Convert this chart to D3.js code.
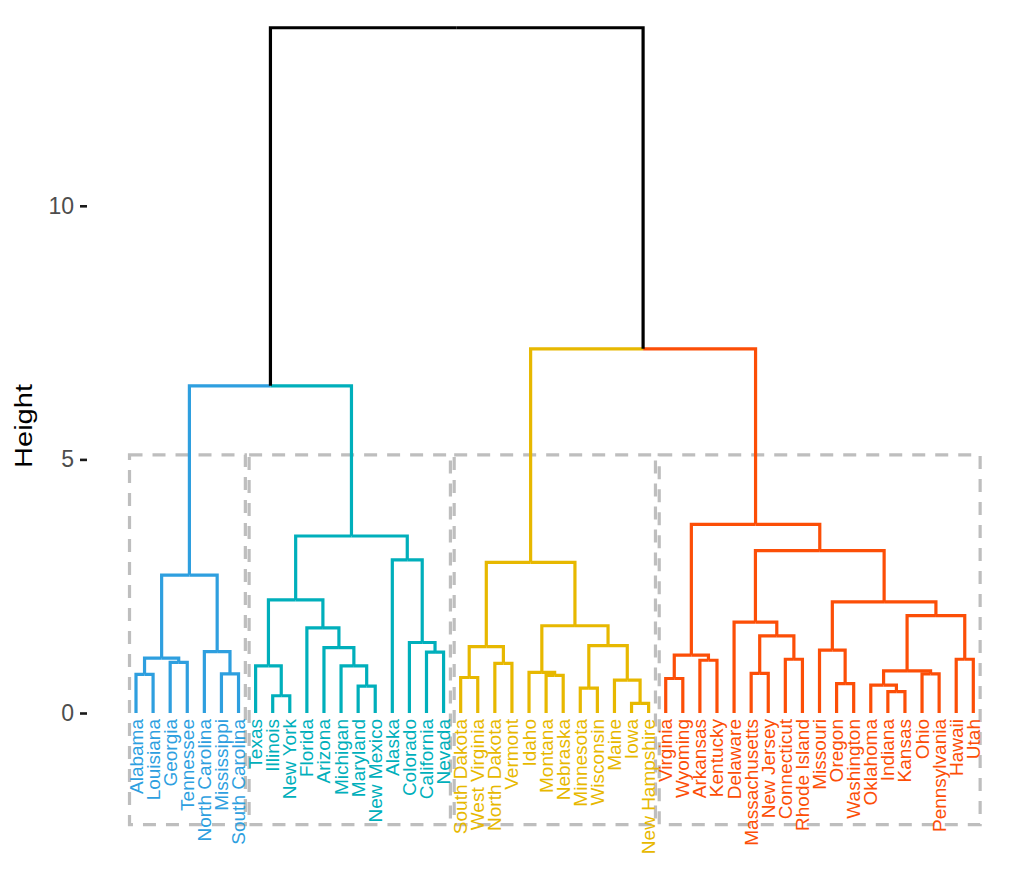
<!DOCTYPE html>
<html>
<head>
<meta charset="utf-8">
<script src="https://cdn.jsdelivr.net/npm/d3@7"></script>
<style>
  html, body { margin: 0; padding: 0; background: #ffffff; }
  svg { display: block; }
</style>
</head>
<body>
<svg id="chart" width="1036" height="887"></svg>
<script>
// ---------------- DATA ----------------
const leafNames = [
  "Alabama","Louisiana","Georgia","Tennessee","North Carolina","Mississippi","South Carolina",
  "Texas","Illinois","New York","Florida","Arizona","Michigan","Maryland","New Mexico",
  "Alaska","Colorado","California","Nevada",
  "South Dakota","West Virginia","North Dakota","Vermont","Idaho","Montana","Nebraska",
  "Minnesota","Wisconsin","Maine","Iowa","New Hampshire",
  "Virginia","Wyoming","Arkansas","Kentucky","Delaware","Massachusetts","New Jersey",
  "Connecticut","Rhode Island","Missouri","Oregon","Washington","Oklahoma","Indiana",
  "Kansas","Ohio","Pennsylvania","Hawaii","Utah"
];
// hclust-style merge table: negative = leaf (1-based, display order), positive = earlier merge step
const mergeA = [-1,-3, 1,-6,-5, 3,-9,-8,-14,-13,-12,-11, 8,-18,-17,-16,13, 6,
                -20,-22,19,-25,-24,-27,-30,-29,24,23,21,
                -32,-34,30,-37,-39,33,-36,-42,-41,-45,-44,-47,40,-49,42,38,36,32,29,18];
const mergeB = [-2,-4, 2,-7, 4, 5,-10, 7,-15, 9,10,11,12,-19,14,15,16,17,
                -21,-23,20,-26,22,-28,-31,25,26,27,28,
                -33,-35,31,-38,-40,34,35,-43,37,-46,39,-48,41,-50,43,44,45,46,47,48];
const mergeHeight = [0.76,1.00,1.08,0.77,1.21,2.72,0.34,0.93,0.53,0.93,1.29,1.68,2.23,1.20,1.39,3.02,3.49,6.45,
                     0.70,0.98,1.31,0.74,0.80,0.49,0.19,0.65,1.33,1.72,2.97,
                     0.68,1.04,1.14,0.78,1.06,1.52,1.79,0.58,1.24,0.42,0.55,0.77,0.83,1.06,1.92,2.19,3.20,3.72,7.18,13.51];
const clusterSizes = [7, 12, 12, 19];
const clusterColors = ["#2E9FDF", "#00AFBB", "#E7B800", "#FC4E07"];
const yTicks = [0, 5, 10];
const axisTitle = "Height";
const rectTop = 5.09, rectBottom = -2.2;

// ---------------- LAYOUT ----------------
const svg = d3.select("#chart");
const x = d3.scalePoint().domain(leafNames).range([136, 973.3]).padding(0);
const y = d3.scaleLinear().domain([0, 10]).range([713, 205.8]);

// cluster of each leaf
const leafCluster = [];
clusterSizes.forEach((n, c) => { for (let i = 0; i < n; i++) leafCluster.push(c); });

// build nodes
const nodes = [];
function childInfo(ref) {
  if (ref < 0) {
    const i = -ref - 1;
    return { x: x(leafNames[i]), h: 0, cluster: leafCluster[i] };
  }
  return nodes[ref - 1];
}
for (let s = 0; s < mergeHeight.length; s++) {
  const a = childInfo(mergeA[s]), b = childInfo(mergeB[s]);
  nodes.push({
    x: (a.x + b.x) / 2,
    h: mergeHeight[s],
    cluster: (a.cluster === b.cluster && a.cluster !== -1) ? a.cluster : -1,
    kids: [a, b]
  });
}

// ---------------- RECTANGLES ----------------
const step = x.step();
let start = 0;
const rects = clusterSizes.map(n => {
  const r = { x0: x(leafNames[start]) - 0.38 * step, x1: x(leafNames[start + n - 1]) + 0.4 * step };
  start += n;
  return r;
});
svg.append("g").selectAll("rect").data(rects).join("rect")
  .attr("x", d => d.x0).attr("width", d => d.x1 - d.x0)
  .attr("y", y(rectTop)).attr("height", y(rectBottom) - y(rectTop))
  .attr("fill", "none").attr("stroke", "#BEBEBE").attr("stroke-width", 3.2)
  .attr("stroke-dasharray", "13,10");

// ---------------- TREE ----------------
const segs = [];
nodes.forEach(p => {
  p.kids.forEach(k => {
    segs.push({ d: `M${k.x},${y(k.h)}V${y(p.h)}H${p.x}`, cluster: k.cluster });
  });
});
svg.append("g").selectAll("path").data(segs).join("path")
  .attr("d", d => d.d)
  .attr("fill", "none")
  .attr("stroke", d => d.cluster >= 0 ? clusterColors[d.cluster] : "#000000")
  .attr("stroke-width", 3.2)
  .attr("stroke-linejoin", "miter")
  .attr("stroke-linecap", "butt");

// ---------------- LEAF LABELS ----------------
svg.append("g").selectAll("text").data(leafNames).join("text")
  .attr("transform", d => `translate(${x(d)},719) rotate(-90)`)
  .attr("text-anchor", "end")
  .attr("dominant-baseline", "central")
  .attr("font-family", "Liberation Sans, Arial, sans-serif")
  .attr("font-size", 19)
  .attr("fill", (d, i) => clusterColors[leafCluster[i]])
  .text(d => d);

// ---------------- Y AXIS ----------------
const axis = svg.append("g").attr("transform", "translate(87,0)")
  .call(d3.axisLeft(y).tickValues(yTicks).tickSize(7).tickPadding(6).tickFormat(d3.format("d")));
axis.select(".domain").remove();
axis.selectAll(".tick line").attr("stroke", "#1a1a1a").attr("stroke-width", 2.6);
axis.selectAll(".tick text")
  .attr("font-family", "Liberation Sans, Arial, sans-serif")
  .attr("font-size", 23).attr("fill", "#4D4D4D");

svg.append("text")
  .attr("transform", `translate(32,426) rotate(-90)`)
  .attr("text-anchor", "middle")
  .attr("font-family", "Liberation Sans, Arial, sans-serif")
  .attr("font-size", 23)
  .attr("textLength", 84).attr("lengthAdjust", "spacingAndGlyphs")
  .attr("fill", "#000000")
  .text(axisTitle);
</script>
</body>
</html>
